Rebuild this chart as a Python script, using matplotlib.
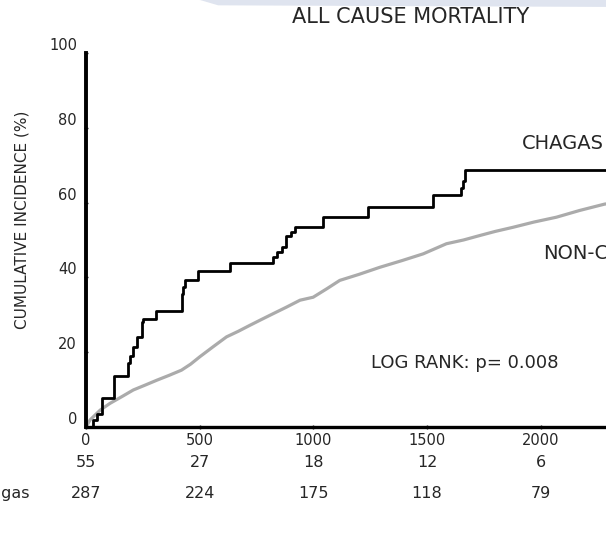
import matplotlib
matplotlib.use("Agg")
import matplotlib.pyplot as plt
from matplotlib.patches import Polygon

plt.rcParams['font.family'] = ['DejaVu Sans']

# Chagas: cumulative incidence (%) steps
chagas_days = [0, 30, 47, 69, 100, 124, 185, 195, 207, 223, 245, 252, 310,
               420, 428, 435, 494, 633, 823, 840, 860, 880, 900, 918, 1043,
               1241, 1527, 1651, 1660, 1666, 2400]
chagas_pct = [0, 1.8, 3.6, 7.7, 7.7, 13.6, 17.0, 19.0, 21.4, 24.0, 28.0, 29.0, 31.0,
              35.5, 37.4, 39.2, 41.7, 43.8, 45.4, 46.7, 48.0, 51.2, 52.2, 53.4, 56.1,
              58.8, 61.9, 64.0, 65.9, 68.7, 68.7]

# Non-Chagas curve, read at many points
non_days = [0, 18, 62, 105, 160, 208, 260, 311, 365, 420, 460, 501, 560, 618,
            670, 721, 770, 823, 880, 941, 999, 1060, 1116, 1200, 1292, 1390,
            1483, 1585, 1660, 1732, 1800, 1878, 1970, 2069, 2171, 2281, 2400]
non_pct = [0, 1.9, 4.5, 6.3, 8.2, 9.9, 11.2, 12.5, 13.8, 15.2, 16.8, 18.8, 21.5, 24.1,
           25.6, 27.2, 28.7, 30.3, 32.0, 33.9, 34.7, 37.0, 39.2, 40.8, 42.7, 44.5,
           46.3, 49.0, 50.0, 51.2, 52.3, 53.4, 54.8, 56.1, 57.9, 59.6, 60.5]

tick_days = [0, 500, 1000, 1500, 2000]
risk_chagas = [55, 27, 18, 12, 6]
risk_non = [287, 224, 175, 118, 79]

txt = '#262626'

fig = plt.figure(figsize=(6.06, 5.33), dpi=100)
ax = fig.add_axes([86 / 606, 106 / 533, 523 / 606, 374 / 533])

ax.plot(non_days, non_pct, color='#ababab', lw=2.3, clip_on=False, zorder=2)
ax.step(chagas_days, chagas_pct, where='post', color='black', lw=2.0,
        clip_on=False, zorder=3)

ax.set_xlim(0, 2300)
ax.set_ylim(0, 100)
ax.set_xticks(tick_days)
ax.set_yticks([0, 20, 40, 60, 80, 100])
for s in ['top', 'right']:
    ax.spines[s].set_visible(False)
ax.spines['left'].set_linewidth(2.8)
ax.spines['bottom'].set_linewidth(2.4)
ax.tick_params(axis='both', labelsize=10.5, colors=txt, length=3, width=1,
               direction='inout')
ax.tick_params(axis='y', pad=5)
ax.tick_params(axis='x', pad=3)
for lab in ax.get_yticklabels():
    lab.set_va('bottom')

ax.set_ylabel('CUMULATIVE INCIDENCE (%)', fontsize=11, color=txt)
ax.yaxis.set_label_coords(-0.108, 0.555)
fig.text(411 / 606, 1 - 17 / 533, 'ALL CAUSE MORTALITY', fontsize=15,
         ha='center', va='center', color=txt)

ax.text(1915, 75.8, 'CHAGAS', fontsize=14, color=txt, va='center')
ax.text(2010, 46.5, 'NON-CHAGAS', fontsize=14, color=txt, va='center')
ax.text(1255, 17, 'LOG RANK: p= 0.008', fontsize=13, color=txt, va='center')

# numbers at risk
for d, c, n in zip(tick_days, risk_chagas, risk_non):
    ax.text(d, -9.4, str(c), fontsize=11.5, ha='center', va='center', color=txt,
            clip_on=False)
    ax.text(d, -17.9, str(n), fontsize=11.5, ha='center', va='center', color=txt,
            clip_on=False)
ax.text(-675, -9.4, 'Chagas', fontsize=11.5, va='center', color=txt, clip_on=False)
ax.text(-675, -17.9, 'Non-Chagas', fontsize=11.5, va='center', color=txt, clip_on=False)

# faint scan band at the top
fig.patches.append(Polygon([[0.33, 1.0], [1.0, 1.0], [1.0, 0.987], [0.36, 0.99]],
                           closed=True, transform=fig.transFigure,
                           facecolor='#dfe4ef', edgecolor='none'))

fig.savefig('out.png', dpi=100)
